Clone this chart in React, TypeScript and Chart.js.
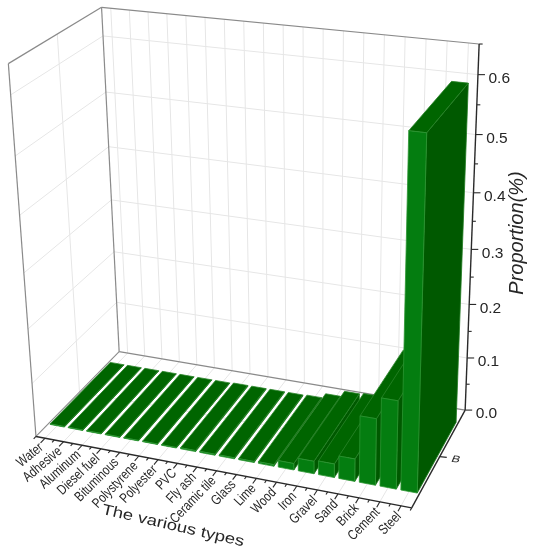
import React, { useEffect, useRef } from "react";
import { Chart, registerables, BarController, BarElement } from "chart.js";

const categories = ["Water", "Adhesive", "Aluminum", "Diesel fuel", "Bituminous", "Polystyrene", "Polyester", "PVC", "Fly ash", "Ceramic tile", "Glass", "Lime", "Wood", "Iron", "Gravel", "Sand", "Brick", "Cement", "Steel"];
const values = [0.001, 0.001, 0.001, 0.001, 0.001, 0.001, 0.001, 0.002, 0.002, 0.002, 0.002, 0.003, 0.012, 0.023, 0.025, 0.041, 0.12, 0.158, 0.6];
const yMajorTicks = [0, 0.1, 0.2, 0.3, 0.4, 0.5, 0.6];
const yMinorTicks = [0.05, 0.15, 0.25, 0.35, 0.45, 0.55, 0.65];
const yMax = 0.65;
const depthCategory = "B";

const W = 537, H = 550;
const V_FRONT = 0.135, V_BACK = 0.86;

// frame corners of the 3D box: [u, v, w, px, py]
const frameCorners = [
  [0, 0, 0, 36, 436],
  [1, 0, 0, 412, 508],
  [0, 1, 0, 119, 352],
  [1, 1, 0, 465, 410],
  [0, 0, 1, 8, 64],
  [0, 1, 1, 102, 7],
  [1, 1, 1, 479, 44],
];

function solveProjection() {
  const rows: number[][] = [];
  const rhs: number[] = [];
  for (const [u, v, w, px, py] of frameCorners) {
    rows.push([u, v, w, 1, 0, 0, 0, 0, -px * u, -px * v, -px * w]); rhs.push(px);
    rows.push([0, 0, 0, 0, u, v, w, 1, -py * u, -py * v, -py * w]); rhs.push(py);
  }
  const n = 11;
  const M: number[][] = [];
  for (let i = 0; i < n; i++) {
    M.push(new Array(n + 1).fill(0));
    for (let j = 0; j < n; j++) rows.forEach((r) => { M[i][j] += r[i] * r[j]; });
    rows.forEach((r, k) => { M[i][n] += r[i] * rhs[k]; });
    M[i][i] += 1e-9;
  }
  for (let i = 0; i < n; i++) {
    let p = i;
    for (let k = i + 1; k < n; k++) if (Math.abs(M[k][i]) > Math.abs(M[p][i])) p = k;
    [M[i], M[p]] = [M[p], M[i]];
    for (let k = 0; k < n; k++) {
      if (k === i) continue;
      const f = M[k][i] / M[i][i];
      for (let j = i; j <= n; j++) M[k][j] -= f * M[i][j];
    }
  }
  return M.map((r, i) => r[n] / r[i]);
}
const P = solveProjection();
function project(u: number, v: number, w: number): [number, number] {
  const d = 1 + P[8] * u + P[9] * v + P[10] * w;
  return [(P[0] * u + P[1] * v + P[2] * w + P[3]) / d, (P[4] * u + P[5] * v + P[6] * w + P[7]) / d];
}

function face(ctx: CanvasRenderingContext2D, pts: [number, number][], fill: string, edge: string) {
  ctx.beginPath();
  pts.forEach((p, i) => (i ? ctx.lineTo(p[0], p[1]) : ctx.moveTo(p[0], p[1])));
  ctx.closePath();
  ctx.fillStyle = fill;
  ctx.fill();
  ctx.strokeStyle = edge;
  ctx.lineWidth = 0.8;
  ctx.stroke();
}

class Bar3DElement extends BarElement {
  static id = "bar3dElement";
  draw(ctx: CanvasRenderingContext2D) {
    const { x, y, base, width } = (this as any).getProps(["x", "y", "base", "width"], false);
    const u0 = (x - width / 2) / W, u1 = (x + width / 2) / W;
    const w0 = (H - base) / H, w1 = (H - y) / H;
    const c = (u: number, v: number, w: number) => project(u, v, w);
    face(ctx, [c(u1, V_FRONT, w0), c(u1, V_BACK, w0), c(u1, V_BACK, w1), c(u1, V_FRONT, w1)], "#005900", "#1f7a1f");
    face(ctx, [c(u0, V_FRONT, w1), c(u1, V_FRONT, w1), c(u1, V_BACK, w1), c(u0, V_BACK, w1)], "#006500", "#2a842a");
    face(ctx, [c(u0, V_FRONT, w0), c(u1, V_FRONT, w0), c(u1, V_FRONT, w1), c(u0, V_FRONT, w1)], "#047d10", "#2c9532");
  }
}

class Bar3DController extends BarController {
  static id = "bar3d";
  static defaults = { ...(BarController as any).defaults, dataElementType: "bar3dElement" };
  static overrides = (BarController as any).overrides;
}

Chart.register(...registerables, Bar3DElement, Bar3DController);

const GRID = "#e6e6e6";
const FRAME = "#8a8a8a";
const AXIS = "#2a2a2a";
const TEXT = "#262626";
const FONT = '"Liberation Sans", Arial, sans-serif';

function seg(ctx: CanvasRenderingContext2D, a: [number, number], b: [number, number], color: string, lw: number) {
  ctx.beginPath();
  ctx.moveTo(a[0], a[1]);
  ctx.lineTo(b[0], b[1]);
  ctx.strokeStyle = color;
  ctx.lineWidth = lw;
  ctx.stroke();
}

const frame3d = {
  id: "frame3d",
  beforeDatasetsDraw(chart: any) {
    const ctx: CanvasRenderingContext2D = chart.ctx;
    const xs = chart.scales.x, ys = chart.scales.y;
    const uOf = (i: number) => xs.getPixelForValue(i) / W;
    const wOf = (val: number) => (H - ys.getPixelForValue(val)) / H;
    const step = uOf(1) - uOf(0);
    ctx.save();
    // category grid on back wall and floor
    categories.forEach((_, i) => {
      const u = uOf(i);
      seg(ctx, project(u, 1, 0), project(u, 1, 1), GRID, 1);
      seg(ctx, project(u, 0, 0), project(u, 1, 0), GRID, 1);
    });
    // value grid on back and left walls
    yMajorTicks.slice(1).forEach((val) => {
      const w = wOf(val);
      seg(ctx, project(0, 1, w), project(1, 1, w), GRID, 1);
      seg(ctx, project(0, 0, w), project(0, 1, w), GRID, 1);
    });
    // depth category grid
    seg(ctx, project(0, 0.5, 0), project(0, 0.5, 1), GRID, 1);
    seg(ctx, project(0, 0.5, 0), project(1, 0.5, 0), GRID, 1);
    // frame
    seg(ctx, project(0, 0, 1), project(0, 1, 1), FRAME, 1.2);
    seg(ctx, project(0, 1, 1), project(1, 1, 1), FRAME, 1.2);
    seg(ctx, project(0, 0, 0), project(0, 0, 1), FRAME, 1.2);
    seg(ctx, project(0, 1, 0), project(0, 1, 1), FRAME, 1.2);
    seg(ctx, project(0, 0, 0), project(0, 1, 0), FRAME, 1.1);
    seg(ctx, project(0, 1, 0), project(1, 1, 0), FRAME, 1.1);

    // x axis
    seg(ctx, project(0, 0, 0), project(1, 0, 0), AXIS, 1.4);
    const tick = (u: number, len: number) => {
      const a = project(u, 0, 0);
      const b = project(u, -len, 0);
      seg(ctx, a, b, AXIS, 1.1);
      return b;
    };
    categories.forEach((label, i) => {
      const u = uOf(i);
      tick(u - step / 2, 0.025);
      const b = tick(u, 0.05);
      ctx.save();
      ctx.translate(b[0] + 1, b[1] + 3);
      ctx.rotate(-Math.min(46, 39 + i * 1.5) * Math.PI / 180);
      ctx.scale(0.8, 1);
      ctx.font = `14px ${FONT}`;
      ctx.fillStyle = TEXT;
      ctx.textAlign = "right";
      ctx.textBaseline = "middle";
      ctx.fillText(label, 0, 0);
      ctx.restore();
    });
    tick(uOf(categories.length - 1) + step / 2, 0.025);

    // depth axis
    seg(ctx, project(1, 0, 0), project(1, 1, 0), AXIS, 1.4);
    const dA = project(1, 0.5, 0);
    seg(ctx, dA, [dA[0] + 7, dA[1] + 0.8], AXIS, 1.2);
    ctx.save();
    ctx.translate(dA[0] + 16, dA[1] + 3);
    ctx.transform(1.15, 0.12, -0.35, 0.85, 0, 0);
    ctx.font = `11px ${FONT}`;
    ctx.fillStyle = TEXT;
    ctx.textAlign = "center";
    ctx.textBaseline = "middle";
    ctx.fillText(depthCategory, 0, 0);
    ctx.restore();

    // value axis
    seg(ctx, project(1, 1, 0), project(1, 1, 1), AXIS, 1.4);
    yMinorTicks.forEach((val) => {
      const a = project(1, 1, wOf(val));
      seg(ctx, a, [a[0] + 3.5, a[1]], AXIS, 1.1);
    });
    yMajorTicks.forEach((val) => {
      const a = project(1, 1, wOf(val));
      seg(ctx, a, [a[0] + 7, a[1]], AXIS, 1.1);
      ctx.font = `15.5px ${FONT}`;
      ctx.fillStyle = TEXT;
      ctx.textAlign = "left";
      ctx.textBaseline = "middle";
      ctx.fillText(val.toFixed(1), a[0] + 10.5, a[1] + 4);
    });

    // axis titles
    ctx.save();
    ctx.translate(517, 233);
    ctx.rotate(-Math.PI / 2);
    ctx.font = `italic 20px ${FONT}`;
    ctx.fillStyle = TEXT;
    ctx.textAlign = "center";
    ctx.textBaseline = "middle";
    ctx.fillText("Proportion(%)", 0, 0);
    ctx.restore();

    ctx.save();
    ctx.translate(173, 526);
    ctx.rotate(13 * Math.PI / 180);
    ctx.scale(1.23, 1);
    ctx.font = `15px ${FONT}`;
    ctx.fillStyle = TEXT;
    ctx.textAlign = "center";
    ctx.textBaseline = "middle";
    ctx.fillText("The various types", 0, 0);
    ctx.restore();
    ctx.restore();
  },
};

export default function App() {
  const ref = useRef<HTMLCanvasElement>(null);
  useEffect(() => {
    const chart = new Chart(ref.current!, {
      type: "bar3d" as any,
      data: {
        labels: categories,
        datasets: [{ label: depthCategory, data: values, categoryPercentage: 1, barPercentage: 0.78 } as any],
      },
      options: {
        animation: false,
        responsive: false,
        maintainAspectRatio: false,
        layout: { padding: 0 },
        plugins: { legend: { display: false }, tooltip: { enabled: false }, title: { display: false } },
        scales: {
          x: { type: "category", display: false, offset: true },
          y: { type: "linear", display: false, min: 0, max: yMax },
        },
      } as any,
      plugins: [frame3d as any],
    });
    return () => chart.destroy();
  }, []);
  return <canvas ref={ref} width={W} height={H} style={{ position: "absolute", left: 0, top: 0, display: "block" }} />;
}
